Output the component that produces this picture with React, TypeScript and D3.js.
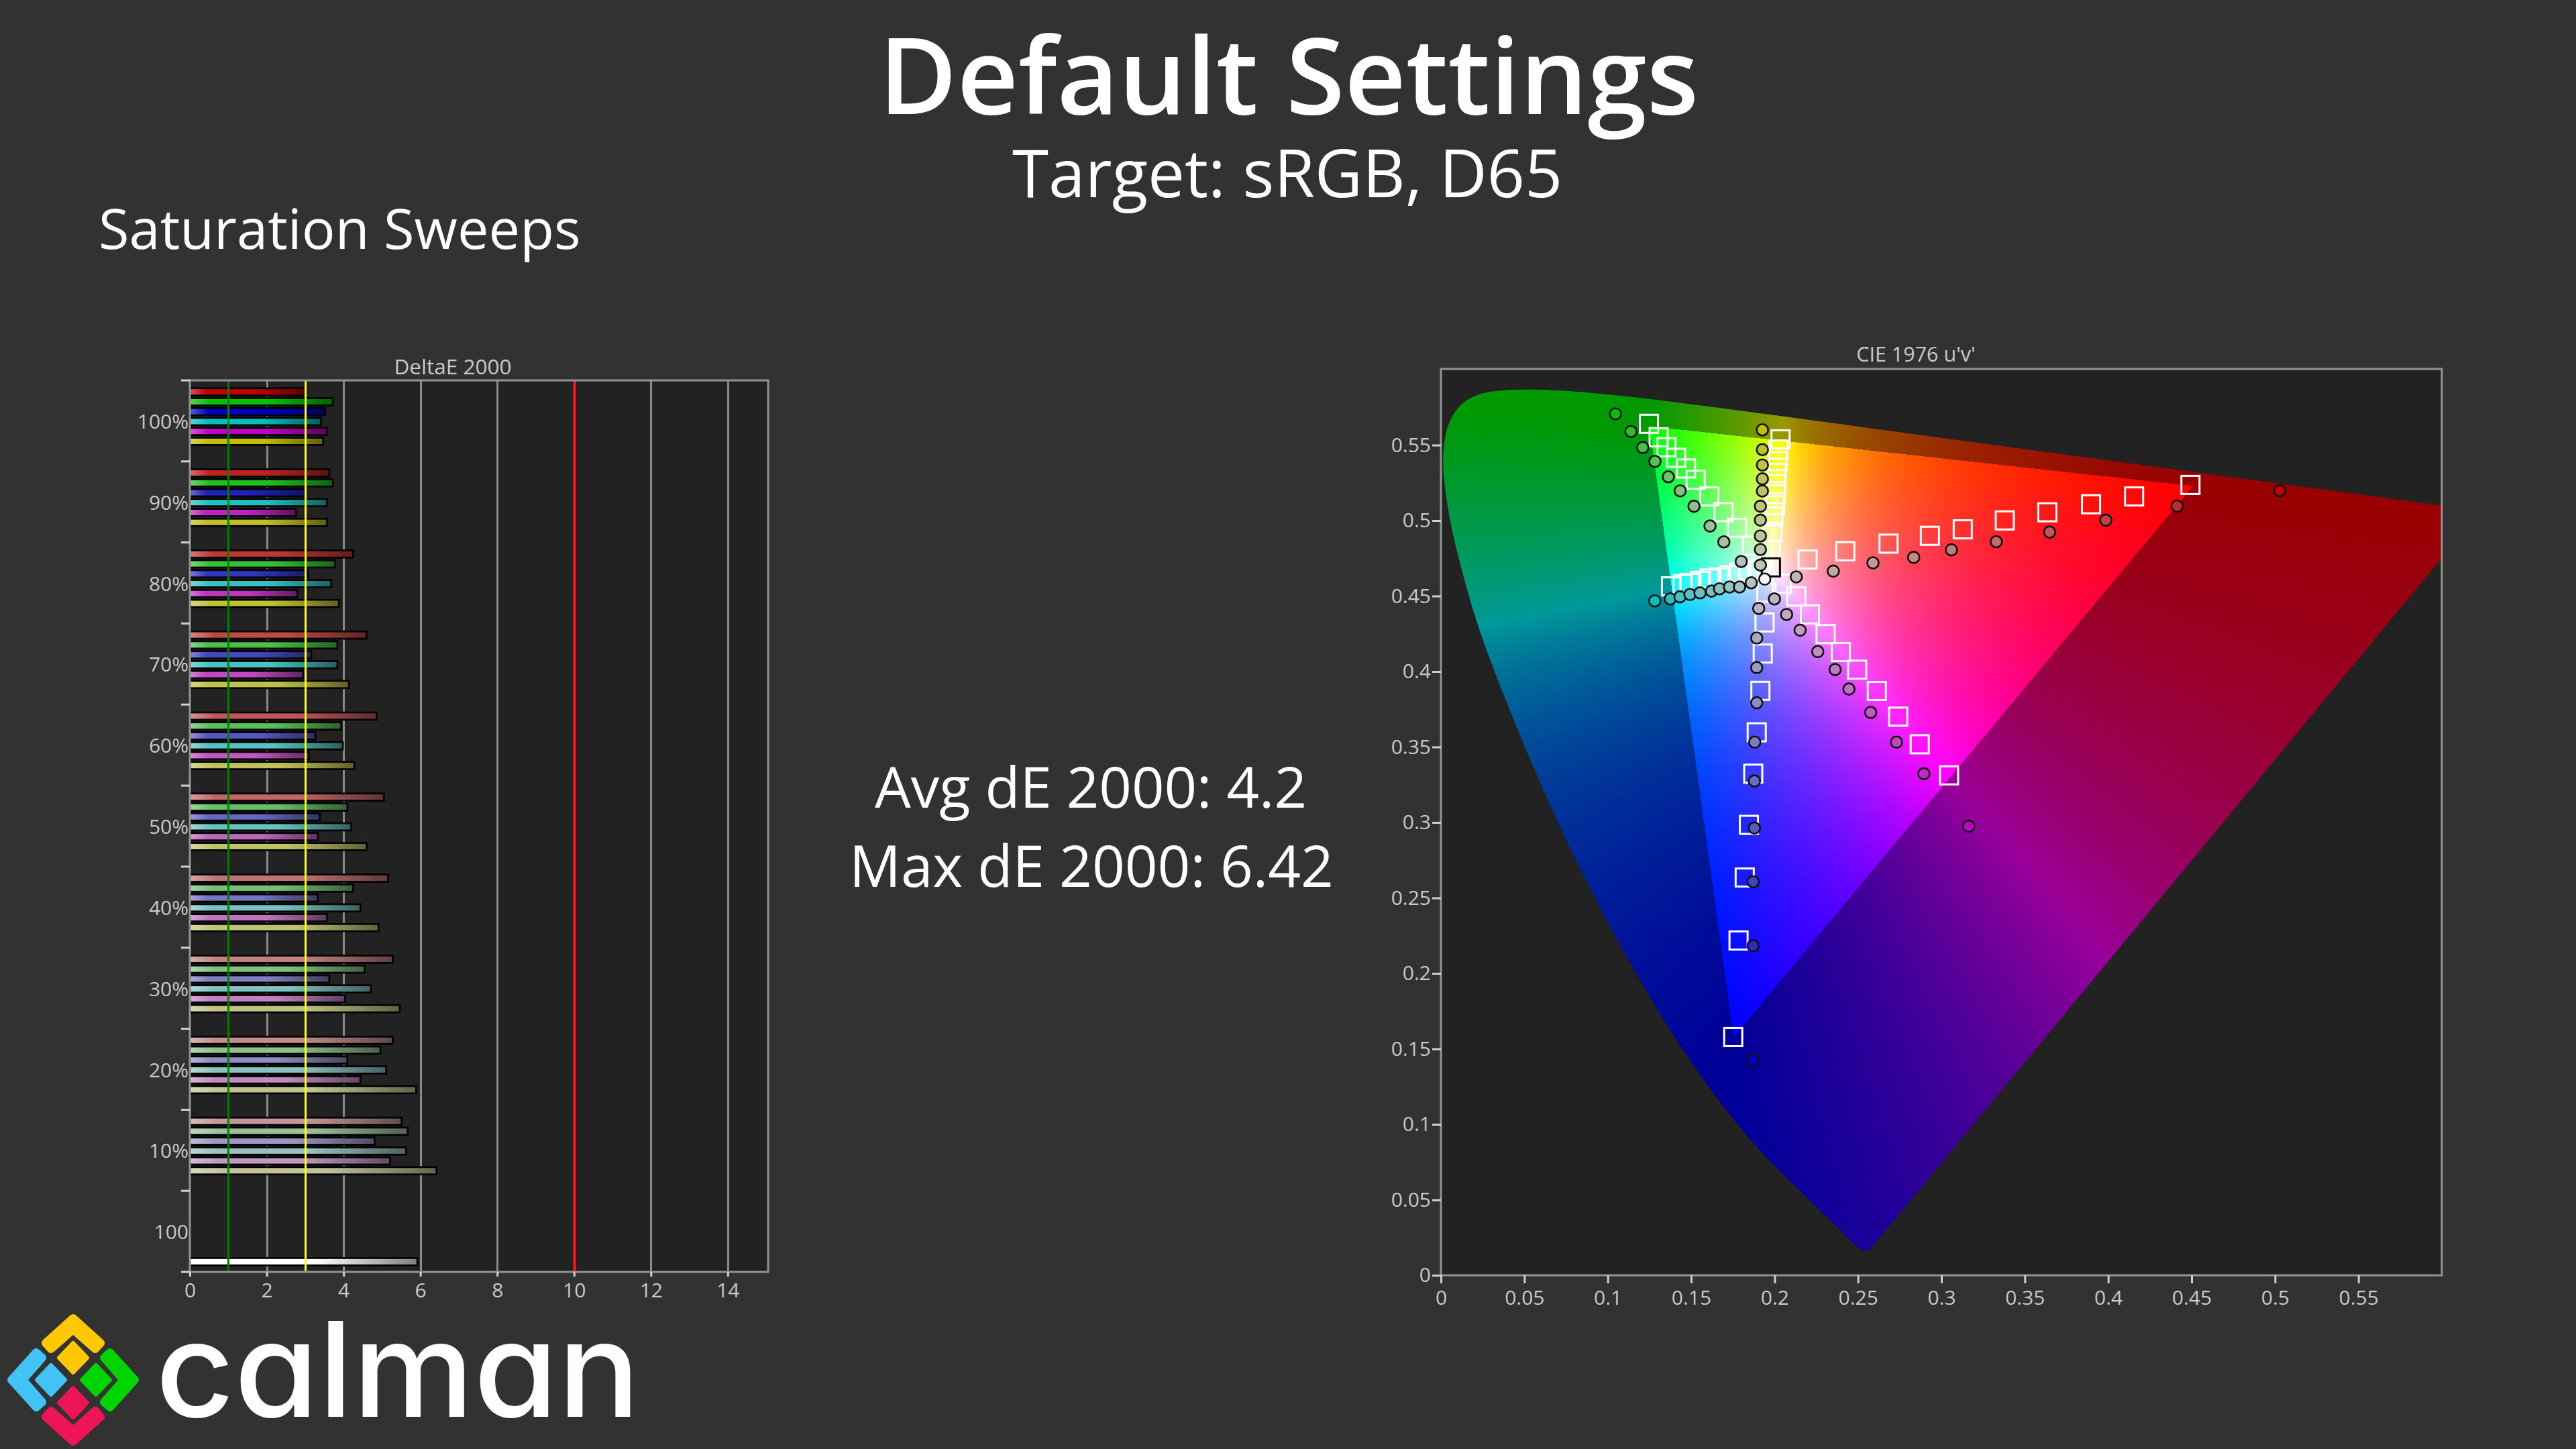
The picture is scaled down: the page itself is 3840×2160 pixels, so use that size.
import * as d3 from "d3"
import { useEffect, useRef } from "react"

// DeltaE 2000 per saturation step, 100% down to 10%
const levelLabels = ["100%", "90%", "80%", "70%", "60%", "50%", "40%", "30%", "20%", "10%", "100"]
const levelSat = [1, 0.9, 0.8, 0.7, 0.6, 0.5, 0.4, 0.3, 0.2, 0.1]
const seriesNames = ["red", "green", "blue", "cyan", "magenta", "yellow", "white"]
const seriesColors = ["#c00000", "#00c000", "#0000c0", "#00c0c0", "#c000c0", "#c0c000", "#ffffff"]

const redDE = [3.0, 3.63, 4.25, 4.6, 4.86, 5.05, 5.16, 5.28, 5.28, 5.51]
const greenDE = [3.72, 3.72, 3.78, 3.84, 3.94, 4.1, 4.25, 4.55, 4.96, 5.67]
const blueDE = [3.52, 3.02, 3.07, 3.16, 3.27, 3.38, 3.33, 3.63, 4.1, 4.81]
const cyanDE = [3.41, 3.57, 3.68, 3.84, 3.98, 4.2, 4.44, 4.71, 5.11, 5.63]
const magentaDE = [3.57, 2.76, 2.8, 2.95, 3.1, 3.33, 3.57, 4.04, 4.44, 5.21]
const yellowDE = [3.47, 3.57, 3.88, 4.14, 4.28, 4.6, 4.91, 5.46, 5.89, 6.42]
const whiteDE = 5.92
const deTicks = [0, 2, 4, 6, 8, 10, 12, 14]

// CIE 1976 u'v' points, same order (100% first)
const redTarget = [[.4493, .5236], [.4155, .516], [.3897, .5108], [.3635, .5055], [.338, .5001], [.3128, .4942], [.2931, .4899], [.2683, .4847], [.2424, .4797], [.2198, .4742]]
const greenTarget = [[.1247, .5641], [.1305, .5552], [.1352, .5486], [.141, .5416], [.1469, .5345], [.1527, .5271], [.1609, .516], [.1694, .5056], [.1775, .4952], [.1865, .4834]]
const blueTarget = [[.1752, .1578], [.1784, .2218], [.1821, .2635], [.1846, .2984], [.1872, .3323], [.1893, .3597], [.1915, .3872], [.1929, .4119], [.194, .4325], [.1951, .4523]]
const cyanTarget = [[.1379, .4564], [.1449, .4579], [.1492, .4587], [.1554, .4601], [.161, .4616], [.1668, .4623], [.173, .4638], [.1788, .4656], [.1845, .4671], [.1908, .4679]]
const magentaTarget = [[.3046, .3312], [.287, .3518], [.2741, .3701], [.2613, .3871], [.2495, .4012], [.2397, .4129], [.2306, .4248], [.2212, .4378], [.213, .4497], [.2043, .4582]]
const yellowTarget = [[.2036, .5538], [.2023, .5471], [.2019, .5394], [.2012, .5316], [.201, .5241], [.2006, .5175], [.2002, .5101], [.1992, .5027], [.1988, .4923], [.1976, .4804]]
const whiteTarget = [.1978, .469]

const redMeasured = [[.5028, .5198], [.4413, .5096], [.3986, .5003], [.3649, .4924], [.3329, .486], [.306, .4806], [.2834, .4756], [.259, .472], [.2352, .4665], [.213, .4627]]
const greenMeasured = [[.1046, .5707], [.1139, .559], [.121, .5484], [.1283, .5392], [.1363, .529], [.1434, .5197], [.1517, .5095], [.1613, .4964], [.1696, .4859], [.18, .4729]]
const blueMeasured = [[.1871, .1425], [.1871, .2183], [.1871, .2607], [.1879, .2963], [.1879, .3275], [.1881, .3532], [.1893, .3793], [.1893, .4026], [.1893, .4222], [.1905, .4418]]
const cyanMeasured = [[.1282, .4468], [.1375, .4481], [.1433, .4495], [.1493, .451], [.1553, .4521], [.1622, .4533], [.167, .4548], [.173, .456], [.179, .456], [.186, .4588]]
const magentaMeasured = [[.3164, .2975], [.2895, .3323], [.2731, .3532], [.2576, .3729], [.2446, .3884], [.2363, .4013], [.2259, .4132], [.2153, .4274], [.2072, .4378], [.1999, .4481]]
const yellowMeasured = [[.1927, .5601], [.1927, .547], [.1927, .5368], [.1927, .5276], [.1927, .5196], [.1915, .5095], [.1915, .5003], [.1915, .4898], [.1915, .4808], [.1915, .4705]]
const whiteMeasured = [.1941, .4612]

const uvTicks = [0, 0.05, 0.1, 0.15, 0.2, 0.25, 0.3, 0.35, 0.4, 0.45, 0.5, 0.55]

// spectral locus in u'v', 380nm round to 700nm
const locus = [[.2568, .0166], [.2522, .0169], [.2347, .035], [.2161, .0549], [.1877, .0871], [.1441, .151], [.0828, .2708], [.0282, .4117], [.0119, .4698], [.0035, .5131], [.0014, .5432], [.0046, .5638], [.0123, .577], [.0231, .5837], [.036, .5861], [.0501, .5868], [.0792, .5856], [.1127, .5821], [.1531, .5766], [.2026, .5694], [.2623, .5604], [.3315, .5501], [.4035, .5393], [.5203, .5219], [.6005, .5099], [.6234, .5065]]

const FONT = "'Open Sans', sans-serif"
const BG = "#323232"
const PLOT_BG = "#222222"
const LABEL = "#c9c9c9"

const barColor = (base: string, sat: number) =>
  d3.interpolateRgb(base, "#c2c2c2")(0.85 * Math.pow(1 - sat, 0.7))
const dotColor = (base: string, sat: number) =>
  d3.interpolateRgb(base, "#c2c2c2")(Math.pow(1 - sat, 0.65))

// gamut picture: bright inside the sRGB triangle, dimmed outside it
function gamutImage(width: number, height: number, u: d3.ScaleLinear<number, number>, v: d3.ScaleLinear<number, number>) {
  const canvas = document.createElement("canvas")
  canvas.width = width
  canvas.height = height
  const ctx = canvas.getContext("2d")!
  const img = ctx.createImageData(width, height)
  for (let py = 0; py < height; py++) {
    for (let px = 0; px < width; px++) {
      const uu = u.invert(u.range()[0] + px + 0.5)
      const vv = Math.max(0.005, v.invert(v.range()[1] + py + 0.5))
      const X = (9 * uu) / (4 * vv)
      const Z = (12 - 3 * uu - 20 * vv) / (4 * vv)
      const r = 3.2406 * X - 1.5372 - 0.4986 * Z
      const g = -0.9689 * X + 1.8758 + 0.0415 * Z
      const b = 0.0557 * X - 0.204 + 1.057 * Z
      const inside = r >= 0 && g >= 0 && b >= 0
      const m = Math.max(r, g, b, 1e-6)
      const k = inside ? 255 : 153
      const i = (py * width + px) * 4
      img.data[i] = (k * Math.max(r, 0)) / m
      img.data[i + 1] = (k * Math.max(g, 0)) / m
      img.data[i + 2] = (k * Math.max(b, 0)) / m
      img.data[i + 3] = 255
    }
  }
  ctx.putImageData(img, 0, 0)
  return canvas.toDataURL("image/png")
}

export default function App() {
  const svgRef = useRef<SVGSVGElement>(null)

  useEffect(() => {
    if (!svgRef.current) return
    const svg = d3.select(svgRef.current)
    svg.selectAll("*").remove()

    svg.append("rect").attr("width", 3840).attr("height", 2160).attr("fill", BG)
    const defs = svg.append("defs")

    const addText = (txt: string, x: number, y: number, size: number, weight = 400, fill = "#ffffff", anchor = "middle") =>
      svg.append("text").attr("x", x).attr("y", y).attr("font-family", FONT).attr("font-size", size)
        .attr("font-weight", weight).attr("fill", fill).attr("text-anchor", anchor).text(txt)

    addText("Default Settings", 1921, 170, 158, 600).attr("textLength", 1222).attr("lengthAdjust", "spacingAndGlyphs")
    addText("Target: sRGB, D65", 1919, 294, 98.2)
    addText("Saturation Sweeps", 147, 371, 83, 400, "#ffffff", "start")
    addText("Avg dE 2000: 4.2", 1626, 1204, 85)
    addText("Max dE 2000: 6.42", 1627, 1322, 85.4)

    // ---- DeltaE bars
    const deValues = [redDE, greenDE, blueDE, cyanDE, magentaDE, yellowDE]
    const x = d3.scaleLinear().domain([0, 15.05]).range([283, 1145])
    const y0 = d3.scaleBand().domain(levelLabels).range([567, 1896])
    const y1 = d3.scaleBand().domain(seriesNames).range([0, y0.bandwidth()]).paddingInner(0.265).paddingOuter(0.73)

    const bars = levelLabels.slice(0, 10).flatMap((level, i) =>
      seriesNames.slice(0, 6).map((name, s) => ({
        level, name, value: deValues[s][i], color: barColor(seriesColors[s], levelSat[i]),
      })),
    )
    bars.push({ level: "100", name: "white", value: whiteDE, color: "#ffffff" })

    bars.forEach((d, i) => {
      const c = d3.color(d.color)!
      const g = defs.append("linearGradient").attr("id", `bar-${i}`)
      g.append("stop").attr("offset", "0%").attr("stop-color", d3.interpolateRgb(d.color, "#ffffff")(0.35))
      g.append("stop").attr("offset", "14%").attr("stop-color", d.color)
      g.append("stop").attr("offset", "55%").attr("stop-color", d.color)
      g.append("stop").attr("offset", "100%").attr("stop-color", c.darker(1.9).formatRgb())
    })

    svg.append("rect").attr("x", 283).attr("y", 567).attr("width", 862).attr("height", 1329).attr("fill", PLOT_BG)

    const snap = (px: number) => Math.round(px) + 0.5

    svg.append("g").selectAll("line").data(deTicks.slice(1)).join("line")
      .attr("x1", (d) => snap(x(d))).attr("x2", (d) => snap(x(d))).attr("y1", 567).attr("y2", 1896)
      .attr("stroke", "#8a8a8a").attr("stroke-width", 3)

    svg.append("g").selectAll("rect").data(bars).join("rect")
      .attr("x", x(0))
      .attr("y", (d) => y0(d.level)! + y1(d.name)! + 1)
      .attr("width", (d) => x(d.value) - x(0))
      .attr("height", y1.bandwidth())
      .attr("fill", (_, i) => `url(#bar-${i})`)
      .attr("stroke", "#000000")
      .attr("stroke-width", 2.7)

    const limits = [{ v: 1, c: "#008000", w: 3 }, { v: 3, c: "#ffff00", w: 3 }, { v: 10, c: "#ff1a1a", w: 4 }]
    svg.append("g").selectAll("line").data(limits).join("line")
      .attr("x1", (d) => snap(x(d.v))).attr("x2", (d) => snap(x(d.v))).attr("y1", 567).attr("y2", 1897)
      .attr("stroke", (d) => d.c).attr("stroke-width", (d) => d.w)

    svg.append("rect").attr("x", 283).attr("y", 567).attr("width", 862).attr("height", 1329)
      .attr("fill", "none").attr("stroke", "#939393").attr("stroke-width", 3)

    // band boundaries carry the ticks, labels sit mid band
    svg.append("g").selectAll("line").data([...levelLabels.map((l) => y0(l)!), 1896]).join("line")
      .attr("x1", 270).attr("x2", 283).attr("y1", (d) => d).attr("y2", (d) => d)
      .attr("stroke", "#d0d0d0").attr("stroke-width", 3)

    const styleAxis = (g: any) => {
      g.select(".domain").remove()
      g.selectAll("text").attr("font-family", FONT).attr("font-size", 30).attr("fill", LABEL)
      g.selectAll("line").attr("stroke", "#d0d0d0").attr("stroke-width", 3)
    }

    svg.append("g").attr("transform", "translate(283,2)")
      .call(d3.axisLeft(y0).tickSize(0).tickPadding(2))
      .call(styleAxis)

    svg.append("g").attr("transform", "translate(0,1896)")
      .call(d3.axisBottom(x).tickValues(deTicks).tickSize(7).tickPadding(10).tickFormat((d) => String(d)))
      .call(styleAxis)

    addText("DeltaE 2000", 675, 558, 31.5, 400, LABEL)

    // ---- CIE chart
    const u = d3.scaleLinear().domain([0, 0.6]).range([2148, 3640])
    const v = d3.scaleLinear().domain([0, 0.6]).range([1901, 551])

    svg.append("rect").attr("x", 2148).attr("y", 550).attr("width", 1492).attr("height", 1351).attr("fill", PLOT_BG)

    const locusLine = d3.line<number[]>().x((d) => u(d[0])).y((d) => v(d[1])).curve(d3.curveCatmullRom)
    const clip = defs.append("clipPath").attr("id", "locus-clip")
    clip.append("path").attr("d", locusLine(locus) + "Z")
    const plotClip = defs.append("clipPath").attr("id", "plot-clip")
    plotClip.append("rect").attr("x", 2148).attr("y", 550).attr("width", 1492).attr("height", 1351)

    svg.append("g").attr("clip-path", "url(#plot-clip)")
      .append("image")
      .attr("x", 2148).attr("y", 551).attr("width", 1492).attr("height", 1350)
      .attr("clip-path", "url(#locus-clip)")
      .attr("href", gamutImage(1492, 1350, u, v))

    svg.append("rect").attr("x", 2148).attr("y", 550).attr("width", 1492).attr("height", 1351)
      .attr("fill", "none").attr("stroke", "#939393").attr("stroke-width", 3)

    svg.append("g").attr("transform", "translate(0,1901)")
      .call(d3.axisBottom(u).tickValues(uvTicks).tickSize(12).tickPadding(11).tickFormat((d) => String(d)))
      .call(styleAxis)
    svg.append("g").attr("transform", "translate(2148,0)")
      .call(d3.axisLeft(v).tickValues(uvTicks).tickSize(13).tickPadding(2).tickFormat((d) => String(d)))
      .call(styleAxis)

    addText("CIE 1976 u'v'", 2856, 539, 30.5, 400, LABEL)

    // targets first, then measured dots on top
    const targets = [redTarget, greenTarget, blueTarget, cyanTarget, magentaTarget, yellowTarget]
    const measured = [redMeasured, greenMeasured, blueMeasured, cyanMeasured, magentaMeasured, yellowMeasured]
    const side = 27

    svg.append("g").selectAll("rect").data(targets.flat()).join("rect")
      .attr("x", (d) => u(d[0]) - side / 2).attr("y", (d) => v(d[1]) - side / 2)
      .attr("width", side).attr("height", side)
      .attr("fill", "none").attr("stroke", "#ffffff").attr("stroke-width", 3)
    svg.append("rect").datum(whiteTarget)
      .attr("x", (d) => u(d[0]) - side / 2).attr("y", (d) => v(d[1]) - side / 2)
      .attr("width", side).attr("height", side)
      .attr("fill", "none").attr("stroke", "#000000").attr("stroke-width", 3)

    const dots = measured.flatMap((pts, s) => pts.map((p, i) => ({ p, color: dotColor(seriesColors[s], levelSat[i]) })))
    dots.push({ p: whiteMeasured, color: "#ffffff" })
    svg.append("g").selectAll("circle").data(dots).join("circle")
      .attr("cx", (d) => u(d.p[0])).attr("cy", (d) => v(d.p[1])).attr("r", 8.5)
      .attr("fill", (d) => d.color).attr("stroke", "#101010").attr("stroke-width", 2.6)

    // ---- logo
    const logo = svg.append("g").attr("transform", "translate(109,2057)")
    const chevron = "M0,-92 L-41,-55 L-33,-46 L0,-75 L33,-46 L41,-55 Z"
    const gem = "M0,-22 L21,0 L0,22 L-21,0 Z"
    const logoParts = [
      { rot: 0, color: "#ffc800", gemAt: [0, -33] },
      { rot: 90, color: "#00d400", gemAt: [34, 0] },
      { rot: 180, color: "#ee1458", gemAt: [0, 34] },
      { rot: 270, color: "#41c3f5", gemAt: [-33, 0] },
    ]
    logoParts.forEach((part) => {
      logo.append("path").attr("d", chevron)
        .attr("transform", `rotate(${part.rot})`)
        .attr("fill", part.color).attr("stroke", part.color).attr("stroke-width", 12).attr("stroke-linejoin", "round")
      logo.append("path").attr("d", gem)
        .attr("transform", `translate(${part.gemAt[0]},${part.gemAt[1]})`)
        .attr("fill", part.color).attr("stroke", part.color).attr("stroke-width", 6).attr("stroke-linejoin", "round")
    })
    svg.append("text").attr("x", 232).attr("y", 2112)
      .attr("font-family", "Inter, sans-serif").attr("font-size", 197).attr("font-weight", 500)
      .attr("fill", "#ffffff").style("font-feature-settings", "'cv11'")
      .attr("textLength", 722).attr("lengthAdjust", "spacingAndGlyphs")
      .text("calman")
  }, [])

  return <svg ref={svgRef} width={3840} height={2160} style={{ position: "absolute", left: 0, top: 0, display: "block" }} />
}
